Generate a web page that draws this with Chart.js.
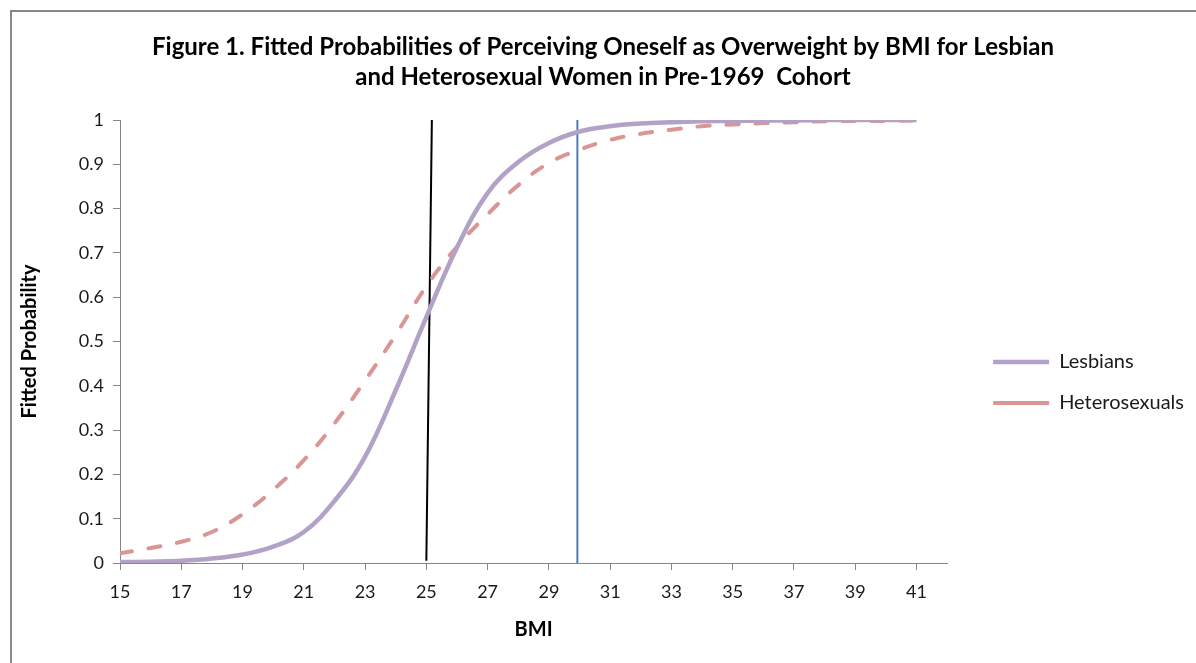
<!DOCTYPE html>
<html>
<head>
<meta charset="utf-8">
<title>Fitted Probabilities by BMI</title>
<script src="https://cdn.jsdelivr.net/npm/chart.js@4.4.1/dist/chart.umd.min.js"></script>
<style>
    html, body { margin: 0; padding: 0; background: #ffffff; overflow: hidden; }
    #frame {
        position: absolute; left: 10px; top: 10px;
        width: 1300px; height: 800px;
        border-top: 2px solid #888888; border-left: 2px solid #888888;
    }
    #wrap { position: absolute; left: 0; top: 0; width: 1196px; height: 663px; }
</style>
</head>
<body>
<div id="frame"></div>
<div id="wrap"><canvas id="bmiChart" width="1196" height="663"></canvas></div>
<script>
// BMI categories and fitted probabilities
const bmi = [15, 16, 17, 18, 19, 20, 21, 22, 23, 24, 25, 26, 27, 28, 29, 30, 31, 32, 33, 34, 35, 36, 37, 38, 39, 40, 41];
const lesbians = [0.002, 0.003, 0.005, 0.010, 0.019, 0.037, 0.070, 0.140, 0.240, 0.390, 0.555, 0.712, 0.835, 0.905, 0.948, 0.974, 0.986, 0.992, 0.995, 0.997, 0.998, 0.999, 0.999, 1.0, 1.0, 1.0, 1.0];
const heterosexuals = [0.022, 0.034, 0.048, 0.070, 0.110, 0.165, 0.232, 0.315, 0.412, 0.515, 0.625, 0.714, 0.787, 0.853, 0.903, 0.933, 0.955, 0.969, 0.978, 0.986, 0.990, 0.993, 0.995, 0.997, 0.998, 0.998, 0.999];

// reference lines at BMI 25 (overweight) and 30 (obese)
const overweightX = [25, 25.18];
const overweightY = [0.005, 1];
const obeseX = [29.93, 29.93];
const obeseY = [0, 1.005];

// axis ticks
const xTicks = [15, 17, 19, 21, 23, 25, 27, 29, 31, 33, 35, 37, 39, 41];
const xMin = 15, xMax = 42;

function toPoints(xs, ys) {
    return xs.map((x, i) => ({ x: x, y: ys[i] }));
}

Chart.defaults.font.family = 'Lato, "Open Sans", sans-serif';
Chart.defaults.color = '#1a1a1a';

const ctx = document.getElementById('bmiChart').getContext('2d');

new Chart(ctx, {
    type: 'line',
    data: {
        datasets: [
            {
                label: 'Lesbians',
                data: toPoints(bmi, lesbians),
                borderColor: '#B3A2C7',
                backgroundColor: '#B3A2C7',
                borderWidth: 4.5,
                pointRadius: 0,
                tension: 0.4,
                fill: false
            },
            {
                label: 'Heterosexuals',
                data: toPoints(bmi, heterosexuals),
                borderColor: '#D99694',
                backgroundColor: '#D99694',
                borderWidth: 4,
                borderDash: [12, 17],
                borderCapStyle: 'round',
                pointRadius: 0,
                tension: 0.4,
                fill: false
            },
            {
                label: 'BMI 25',
                data: toPoints(overweightX, overweightY),
                borderColor: '#000000',
                borderWidth: 2,
                pointRadius: 0,
                fill: false
            },
            {
                label: 'BMI 30',
                data: toPoints(obeseX, obeseY),
                borderColor: '#4A7EBB',
                borderWidth: 2,
                pointRadius: 0,
                fill: false
            }
        ]
    },
    options: {
        responsive: false,
        animation: false,
        layout: {
            padding: { left: 12, top: 12, right: 2, bottom: 0 }
        },
        plugins: {
            title: {
                display: true,
                text: [
                    'Figure 1. Fitted Probabilities of Perceiving Oneself as Overweight by BMI for Lesbian',
                    'and Heterosexual Women in Pre-1969  Cohort'
                ],
                color: '#000000',
                font: { size: 24, weight: 'bold', lineHeight: 1.25 },
                padding: { top: 20, bottom: 28 }
            },
            legend: {
                position: 'right',
                maxWidth: 300,
                title: {
                    display: true,
                    text: ' ',
                    font: { size: 10 },
                    padding: { top: 0, bottom: 78 }
                },
                labels: {
                    usePointStyle: true,
                    pointStyle: 'line',
                    pointStyleWidth: 56,
                    padding: 21,
                    font: { size: 20 },
                    color: '#1a1a1a',
                    filter: function(item) {
                        return item.datasetIndex < 2;
                    }
                }
            },
            tooltip: { enabled: false }
        },
        scales: {
            x: {
                type: 'linear',
                min: xMin,
                max: xMax,
                afterBuildTicks: function(scale) {
                    scale.ticks = xTicks.map(v => ({ value: v }));
                },
                afterFit: function(scale) {
                    scale.height = 100;
                },
                grid: {
                    drawOnChartArea: false,
                    drawTicks: true,
                    tickLength: 7,
                    color: '#868686'
                },
                border: { color: '#868686', width: 1 },
                ticks: {
                    autoSkip: false,
                    maxRotation: 0,
                    padding: 11,
                    font: { size: 18 }
                },
                title: {
                    display: true,
                    text: 'BMI',
                    color: '#000000',
                    font: { size: 20, weight: 'bold' },
                    padding: { top: 0, bottom: 21 }
                }
            },
            y: {
                min: 0,
                max: 1,
                afterFit: function(scale) {
                    scale.width = 108;
                },
                grid: {
                    drawOnChartArea: false,
                    drawTicks: true,
                    tickLength: 7,
                    color: '#868686'
                },
                border: { color: '#868686', width: 1 },
                ticks: {
                    stepSize: 0.1,
                    padding: 9,
                    font: { size: 18 },
                    callback: function(value) {
                        if (value === 0 || value === 1) return String(value);
                        return value.toFixed(1);
                    }
                },
                title: {
                    display: true,
                    text: 'Fitted Probability',
                    color: '#000000',
                    font: { size: 20, weight: 'bold' },
                    padding: { top: 6, bottom: 0 }
                }
            },
            gap: {
                type: 'linear',
                position: 'right',
                min: 0,
                max: 1,
                afterFit: function(scale) {
                    scale.width = 25;
                },
                grid: { display: false },
                border: { display: false },
                ticks: { display: false }
            }
        }
    }
});
</script>
</body>
</html>
